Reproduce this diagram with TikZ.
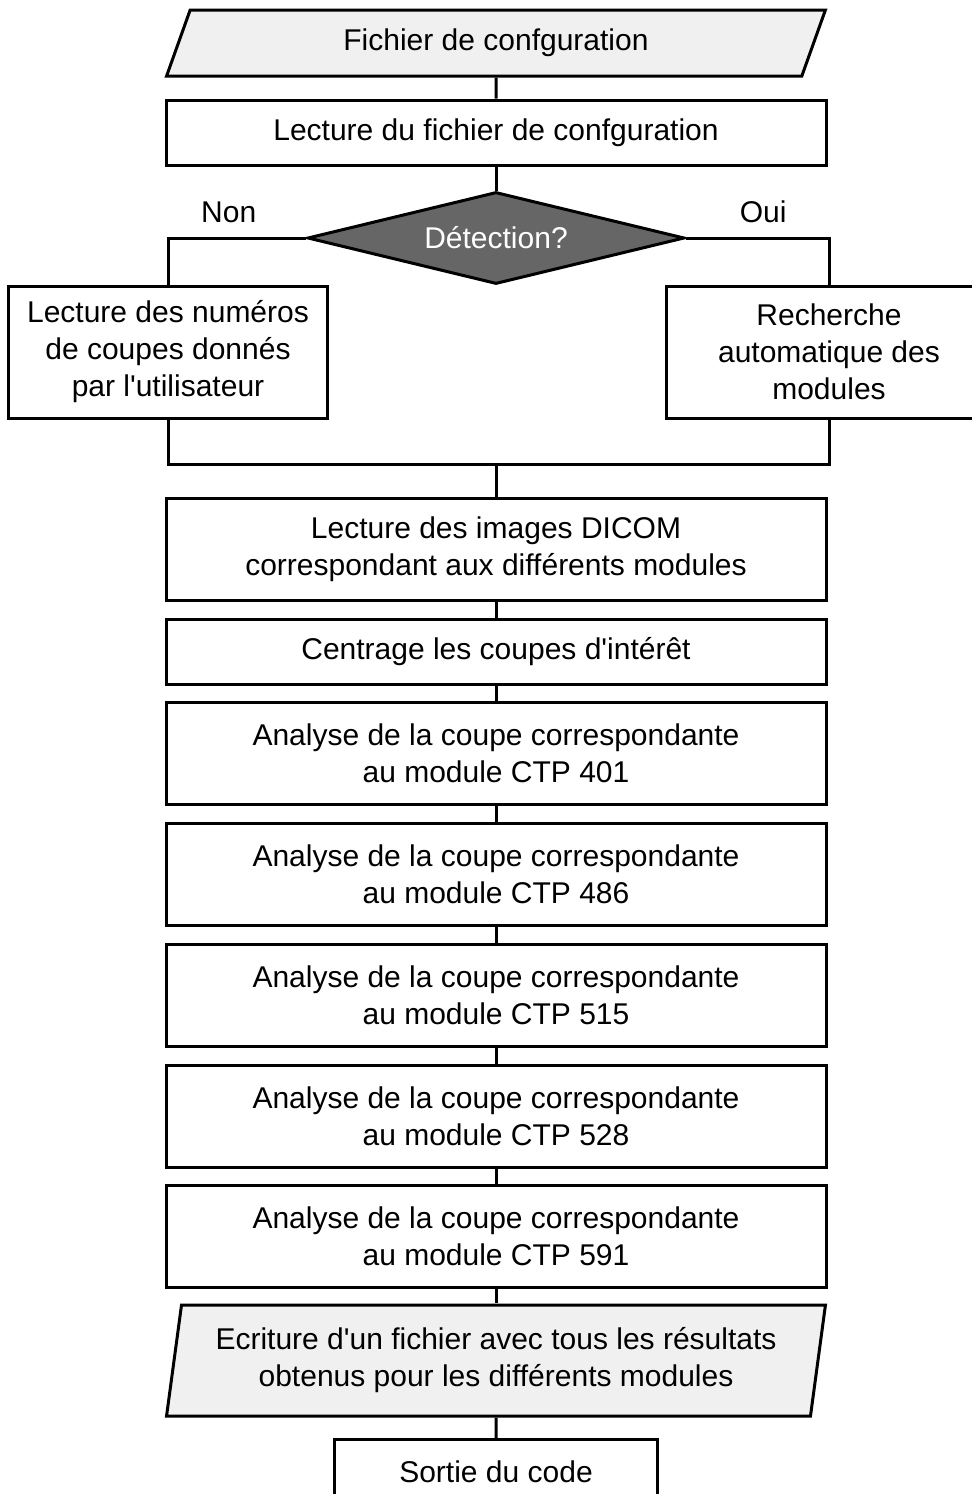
\documentclass[tikz,border=0pt]{standalone}
\usepackage{fontspec}
\setmainfont{Liberation Sans}[Ligatures=TeXOff]
\usetikzlibrary{shapes.geometric,positioning}

\begin{document}
\begin{tikzpicture}[
  x=0.5pt, y=-0.5pt,
  font=\fontsize{15}{18.5}\selectfont,
  box/.style={
    draw, line width=1.5pt, align=center, inner sep=3pt,
    minimum width=330pt
  },
  stage/.style={box, minimum height=32.5pt},
  stage2/.style={box, minimum height=51pt},
  side/.style={box, minimum height=66pt},
  io/.style={box, trapezium, trapezium stretches=true, fill=black!6},
  test/.style={
    draw, line width=1.5pt, diamond, aspect=4.1, inner sep=0pt,
    fill=black!60, text=white, minimum width=188.5pt, minimum height=46pt
  },
  lbl/.style={inner sep=2pt},
  link/.style={line width=1.5pt},
]
\useasboundingbox (0,0) rectangle (972,1494);

% ---- configuration ------------------------------------------------------
\node[io, trapezium left angle=73, trapezium right angle=107,
      minimum height=33pt] (conf) at (496, 43) {Fichier de confguration};
\node[stage] (lect) at (496, 132.5) {Lecture du fichier de confguration};

% ---- detection ----------------------------------------------------------
\node[test] (det) at (496, 238) {Détection?};

\node[side, minimum width=159.5pt] (user) at (168, 352)
  {Lecture des numéros\\ de coupes donnés\\ par l'utilisateur};
\node[side, minimum width=163pt] (auto) at (829, 352)
  {Recherche\\ automatique des\\ modules};

\draw[link] (det.west) -| node[lbl, pos=0.28, above=5pt] {Non} (user.north);
\draw[link] (det.east) -| node[lbl, pos=0.27, above=5pt] {Oui} (auto.north);

\coordinate (join) at (496, 464);
\draw[link] (user.south) |- (join) -| (auto.south);

% ---- analysis -----------------------------------------------------------
\node[stage2] (dicom) at (496, 549.5)
  {Lecture des images DICOM\\ correspondant aux différents modules};
\node[stage] (centr) at (496, 651.5) {Centrage les coupes d'intérêt};

\node[stage2] (a401) at (496, 753)
  {Analyse de la coupe correspondante\\ au module CTP 401};
\node[stage2] (a486) at (496, 874)
  {Analyse de la coupe correspondante\\ au module CTP 486};
\node[stage2] (a515) at (496, 995)
  {Analyse de la coupe correspondante\\ au module CTP 515};
\node[stage2] (a528) at (496, 1116)
  {Analyse de la coupe correspondante\\ au module CTP 528};
\node[stage2] (a591) at (496, 1236.5)
  {Analyse de la coupe correspondante\\ au module CTP 591};

% ---- output -------------------------------------------------------------
\node[io, trapezium left angle=80, trapezium right angle=100,
      minimum height=55.5pt] (ecr) at (496, 1360.5)
  {Ecriture d'un fichier avec tous les résultats\\
   obtenus pour les différents modules};
\node[stage, minimum width=161.5pt] (sortie) at (496, 1472) {Sortie du code};

\draw[link] (join) -- (dicom);
\foreach \a/\b in {conf/lect, lect/det, dicom/centr, centr/a401,
                   a401/a486, a486/a515, a515/a528, a528/a591,
                   a591/ecr, ecr/sortie}
  \draw[link] (\a) -- (\b);

\end{tikzpicture}
\end{document}
